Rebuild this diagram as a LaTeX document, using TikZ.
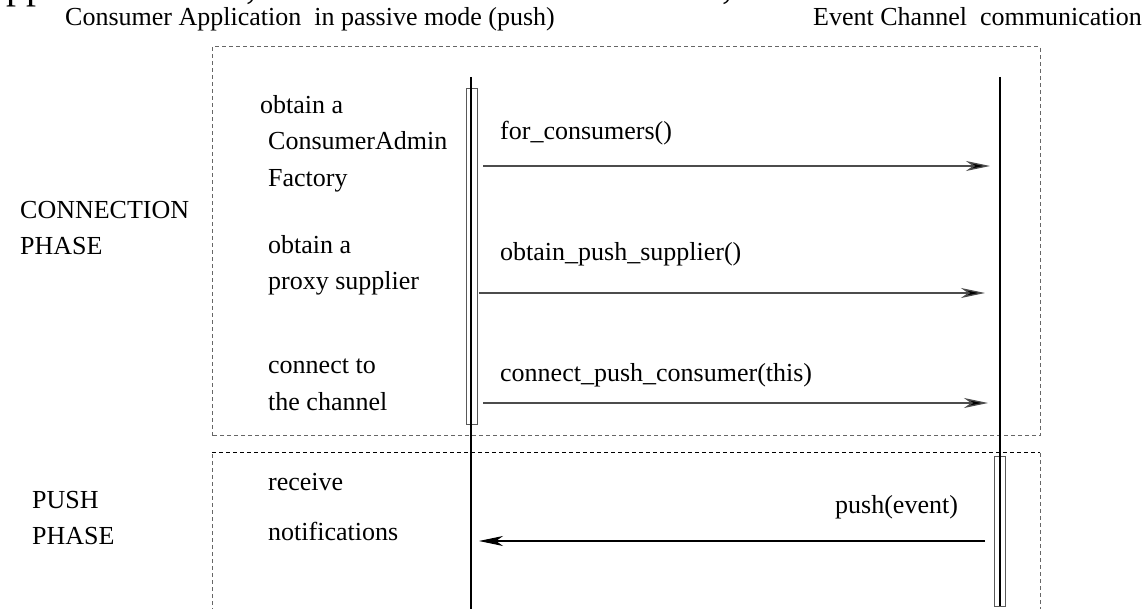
\documentclass[tikz,border=0pt]{standalone}
\usepackage{fontspec}
\setmainfont{Liberation Serif}
\usetikzlibrary{arrows.meta}
\begin{document}
\begin{tikzpicture}[x=1pt,y=-1pt,
  txt/.style={anchor=base west,inner sep=0pt,font=\fontsize{26}{31}\selectfont},
  frag/.style={anchor=base west,inner sep=0pt,font=\fontsize{40}{48}\selectfont},
  phasebox/.style={draw=black!60,dashed,dash pattern=on 4pt off 3pt,line width=1pt},
  life/.style={draw=black,line width=1.1pt},
  actbar/.style={draw=black!65,line width=1pt},
  msg/.style={draw=black!70,line width=1.3pt,-{Stealth[length=24pt,width=10pt,inset=7pt,fill=black]}},
  retmsg/.style={draw=black,line width=1.1pt,-{Stealth[length=24pt,width=10pt,inset=7pt,fill=black]}}]
\useasboundingbox (0,0) rectangle (1144,609);
% cut-off fragments at the top
\node[frag] (fragpp) at (6,-1) {pp};
\node[frag] (fragc1) at (246,-1) {,};
\node[frag] (fragc2) at (722,-1) {,};
% headers
\node[txt] (hdrA) at (65,26) {Consumer Application\ \ in passive mode (push)};
\node[txt] (hdrB) at (813,26) {Event Channel\ \ communication};
% phase boxes
\draw[phasebox] (212,436) -- (212,47) -- (1040,47) -- (1040,436) -- cycle;
\draw[phasebox] (212,612) -- (212,453);
\draw[phasebox] (1040,453) -- (1040,612);
\draw[phasebox,draw=black] (212,453) -- (1040,453);
% lifelines
\coordinate (AlifeTop) at (471,77);
\coordinate (AlifeBot) at (471,612);
\coordinate (BlifeTop) at (1000,77);
\coordinate (BlifeBot) at (1000,606);
\node[actbar,minimum width=11pt,minimum height=336pt,inner sep=0pt] (Aact) at (471.5,257) {};
\node[actbar,minimum width=11pt,minimum height=149pt,inner sep=0pt] (Bact) at (1000,531.5) {};
\draw[life] (AlifeTop) -- (AlifeBot);
\draw[life] (BlifeTop) -- (BlifeBot);
% messages
\coordinate (m1s) at (483,166); \coordinate (m1e) at (990,166);
\coordinate (m2s) at (479,293); \coordinate (m2e) at (985,293);
\coordinate (m3s) at (483,403); \coordinate (m3e) at (988,403);
\coordinate (m4s) at (985,541); \coordinate (m4e) at (479,541);
\draw[msg] (m1s) -- (m1e);
\draw[msg] (m2s) -- (m2e);
\draw[msg] (m3s) -- (m3e);
\draw[retmsg] (m4s) -- (m4e);
\node[txt] (l1) at (500,140) {for\_consumers()};
\node[txt] (l2) at (500,261) {obtain\_push\_supplier()};
\node[txt] (l3) at (500,382) {connect\_push\_consumer(this)};
\node[txt] (l4) at (835,514) {push(event)};
% left descriptions
\node[txt] (d1a) at (260,114) {obtain a};
\node[txt] (d1b) at (268,150) {ConsumerAdmin};
\node[txt] (d1c) at (268,187) {Factory};
\node[txt] (d2a) at (268,254) {obtain a};
\node[txt] (d2b) at (268,290) {proxy supplier};
\node[txt] (d3a) at (268,374) {connect to};
\node[txt] (d3b) at (268,411) {the channel};
\node[txt] (d4a) at (268,491) {receive};
\node[txt] (d4b) at (268,540) {notifications};
% phase names
\node[txt] (p1a) at (20,219) {CONNECTION};
\node[txt] (p1b) at (20,255) {PHASE};
\node[txt] (p2a) at (32,508) {PUSH};
\node[txt] (p2b) at (32,544) {PHASE};
\end{tikzpicture}
\end{document}
